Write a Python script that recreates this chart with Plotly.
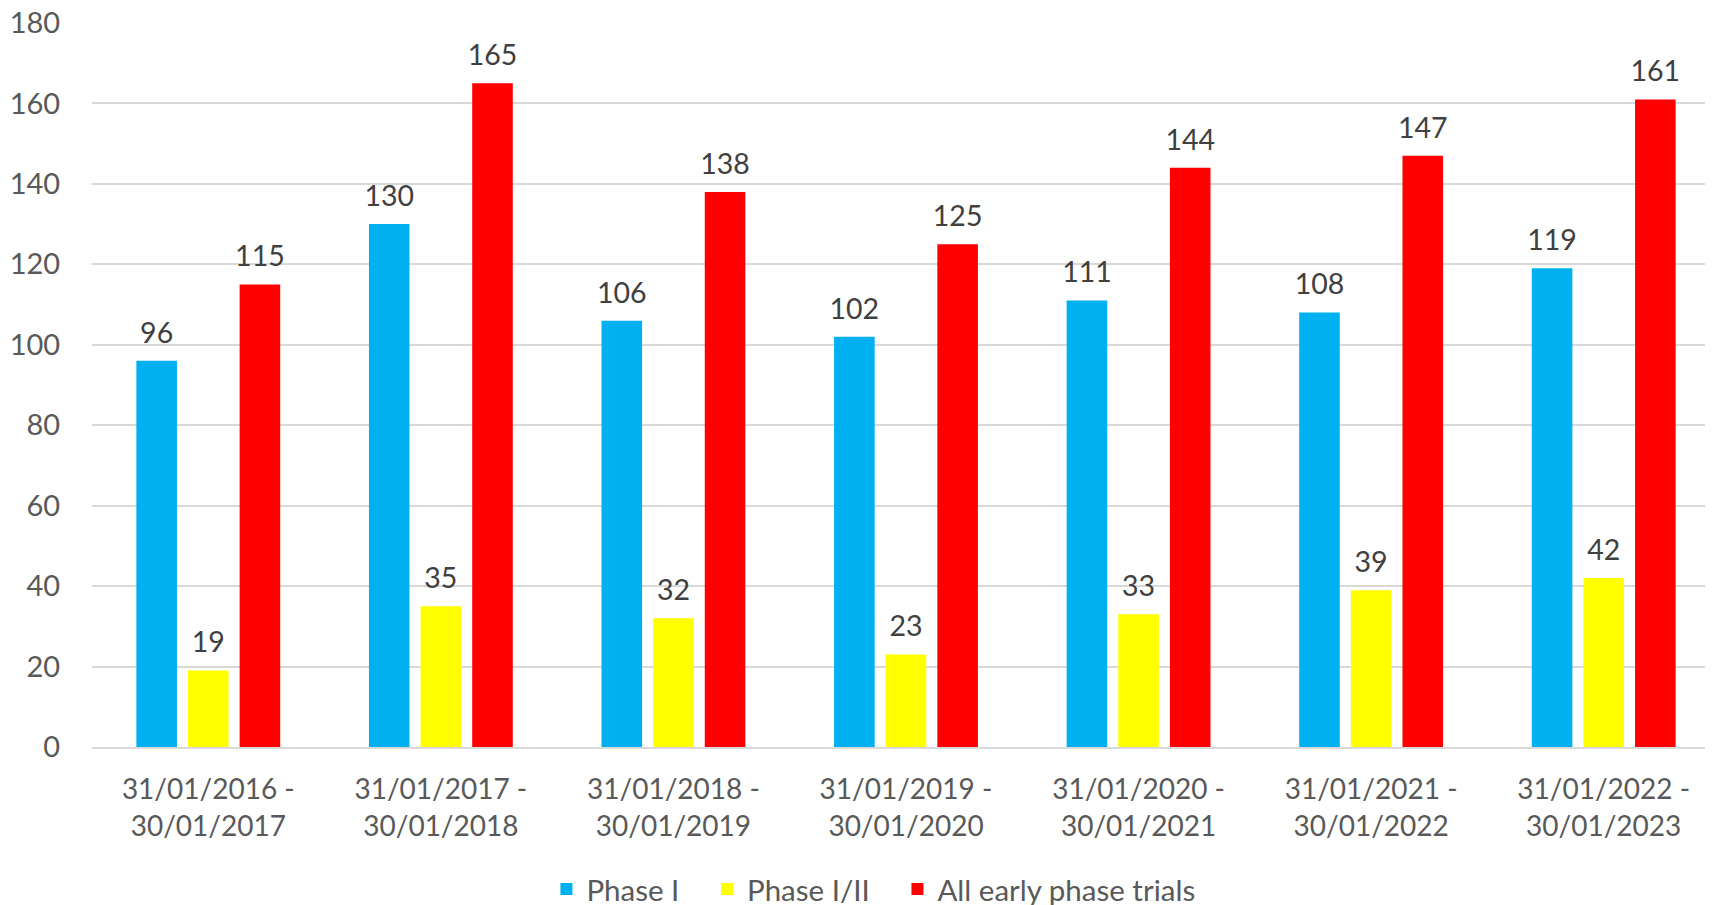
import plotly.graph_objects as go

categories = [
    "31/01/2016 -<br>30/01/2017",
    "31/01/2017 -<br>30/01/2018",
    "31/01/2018 -<br>30/01/2019",
    "31/01/2019 -<br>30/01/2020",
    "31/01/2020 -<br>30/01/2021",
    "31/01/2021 -<br>30/01/2022",
    "31/01/2022 -<br>30/01/2023",
]
phase_1 = [96, 130, 106, 102, 111, 108, 119]
phase_1_2 = [19, 35, 32, 23, 33, 39, 42]
all_early = [115, 165, 138, 125, 144, 147, 161]

PAD = "\u00a0" * 3
series = [
    ("Phase I" + PAD, phase_1, "#00B0F0"),
    ("Phase I/II" + PAD, phase_1_2, "#FFFF00"),
    ("All early phase trials", all_early, "#FF0000"),
]

FONT = "Lato, 'Open Sans', sans-serif"
BARGAP = 0.334

fig = go.Figure()
for name, vals, color in series:
    fig.add_trace(go.Bar(
        x=categories, y=vals, name=name,
        marker=dict(color=color, line=dict(width=0)),
        hoverinfo="skip",
    ))
# value labels, positioned with the same grouping as the bars
for name, vals, color in series:
    fig.add_trace(go.Scatter(
        x=categories, y=vals, mode="markers+text",
        text=[str(v) for v in vals], textposition="top center",
        textfont=dict(family=FONT, size=28.5, color="#404040"),
        marker=dict(size=16, opacity=0),
        showlegend=False, hoverinfo="skip", cliponaxis=False,
    ))

# page body has an 8px margin, so the figure is offset accordingly
fig.update_layout(
    width=1712, height=897,
    margin=dict(l=84, r=0, t=15, b=158, autoexpand=False),
    paper_bgcolor="white", plot_bgcolor="white",
    barmode="group", bargap=BARGAP, bargroupgap=0.214,
    scattermode="group", scattergap=BARGAP,
    font=dict(family=FONT, size=28, color="#595959"),
    legend=dict(
        orientation="h", x=0.48, xanchor="center", y=-0.1966, yanchor="middle",
        font=dict(family=FONT, size=29.5, color="#595959"),
        itemclick=False, itemdoubleclick=False,
    ),
    xaxis=dict(
        automargin=False, range=[-0.5, len(categories) - 0.5],
        showgrid=False, showline=True, linecolor="#D9D9D9", linewidth=1.5,
        ticks="outside", ticklen=17, tickcolor="rgba(0,0,0,0)",
        tickfont=dict(family=FONT, size=28, color="#595959"),
    ),
    yaxis=dict(
        automargin=False, ticklabeloverflow="allow",
        range=[0, 180], dtick=20, showgrid=True, gridcolor="#D9D9D9", gridwidth=1.5,
        zeroline=False, showline=False,
        ticks="outside", ticklen=25, tickcolor="rgba(0,0,0,0)",
        tickfont=dict(family=FONT, size=29, color="#595959"),
    ),
)

fig.write_html("out.html")
